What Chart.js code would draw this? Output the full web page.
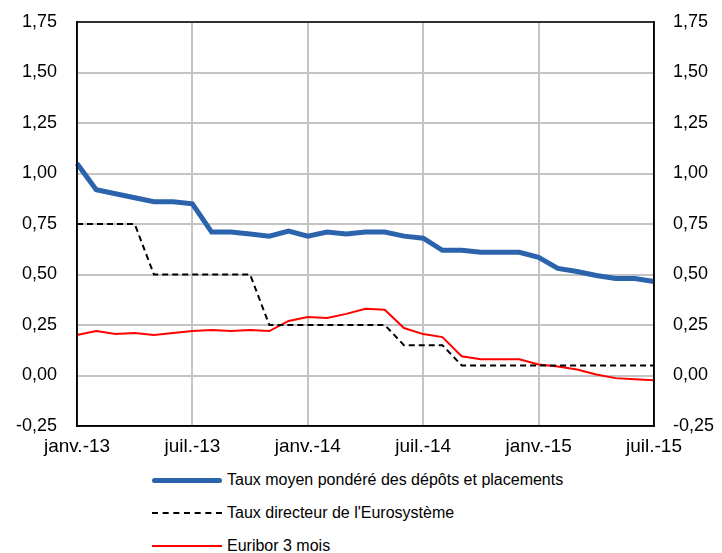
<!DOCTYPE html>
<html>
<head>
<meta charset="utf-8">
<script src="https://cdn.jsdelivr.net/npm/chart.js@4/dist/chart.umd.min.js"></script>
<style>
  body { margin: 0; background: #fff; font-family: 'Liberation Sans', Arial, sans-serif; }
  #wrap { position: relative; width: 722px; height: 553px; }
  #chart { position: absolute; left: 0; top: 0; }
  #legend { position: absolute; left: 152px; top: 464px; }
  .row { display: flex; align-items: center; height: 34px; margin-top: -1px; font-size: 16px; color: #000; }
  .sample { width: 70px; margin-right: 5px; }
</style>
</head>
<body>
<div id="wrap">
  <canvas id="chart" width="722" height="460"></canvas>
  <div id="legend"></div>
</div>
<script>
// mois, de janvier 2013 à juillet 2015
const months = [
  'janv.-13', 'févr.-13', 'mars-13', 'avr.-13', 'mai-13', 'juin-13',
  'juil.-13', 'août-13', 'sept.-13', 'oct.-13', 'nov.-13', 'déc.-13',
  'janv.-14', 'févr.-14', 'mars-14', 'avr.-14', 'mai-14', 'juin-14',
  'juil.-14', 'août-14', 'sept.-14', 'oct.-14', 'nov.-14', 'déc.-14',
  'janv.-15', 'févr.-15', 'mars-15', 'avr.-15', 'mai-15', 'juin-15',
  'juil.-15'
];

const tauxMoyen = [1.05, 0.92, 0.90, 0.88, 0.86, 0.86, 0.85, 0.71, 0.71, 0.70, 0.69, 0.715,
  0.69, 0.71, 0.70, 0.71, 0.71, 0.69, 0.68, 0.62, 0.62, 0.61, 0.61, 0.61,
  0.585, 0.53, 0.515, 0.495, 0.48, 0.48, 0.465];

const tauxDirecteur = [0.75, 0.75, 0.75, 0.75, 0.50, 0.50, 0.50, 0.50, 0.50, 0.50, 0.25, 0.25,
  0.25, 0.25, 0.25, 0.25, 0.25, 0.15, 0.15, 0.15, 0.05, 0.05, 0.05, 0.05,
  0.05, 0.05, 0.05, 0.05, 0.05, 0.05, 0.05];

const euribor = [0.20, 0.22, 0.205, 0.21, 0.20, 0.21, 0.22, 0.225, 0.22, 0.225, 0.22, 0.27,
  0.29, 0.285, 0.305, 0.33, 0.325, 0.235, 0.205, 0.19, 0.095, 0.08, 0.08, 0.08,
  0.055, 0.045, 0.03, 0.005, -0.013, -0.018, -0.023];

const series = [
  { label: 'Taux moyen pondéré des dépôts et placements', data: tauxMoyen, color: '#2b64ac', width: 5, dash: [] },
  { label: "Taux directeur de l'Eurosystème", data: tauxDirecteur, color: '#000000', width: 2, dash: [6, 4] },
  { label: 'Euribor 3 mois', data: euribor, color: '#ff0000', width: 2, dash: [] }
];

Chart.defaults.font.family = "'Liberation Sans', Arial, sans-serif";
Chart.defaults.color = '#000';

const fmt = v => v.toFixed(2).replace('.', ',');

// cadre autour de la zone du graphique
const framePlugin = {
  id: 'frame',
  afterDraw(chart) {
    const a = chart.chartArea;
    const c = chart.ctx;
    c.save();
    c.strokeStyle = '#000';
    c.lineWidth = 1.5;
    c.strokeRect(a.left, a.top, a.right - a.left, a.bottom - a.top);
    c.restore();
  }
};

// largeur fixe des axes verticaux, sans marge haute/basse automatique
const fixY = w => s => {
  s.width = w;
  s.paddingTop = 0;
  s.paddingBottom = 0;
};

new Chart(document.getElementById('chart'), {
  type: 'line',
  data: {
    labels: months,
    datasets: series.map(s => ({
      label: s.label,
      data: s.data,
      borderColor: s.color,
      borderWidth: s.width,
      borderDash: s.dash,
      pointRadius: 0,
      tension: 0,
      fill: false,
      yAxisID: 'y'
    }))
  },
  options: {
    responsive: false,
    animation: false,
    layout: { padding: { top: 22, left: 0, right: 0, bottom: 0 } },
    plugins: { legend: { display: false }, tooltip: { enabled: false } },
    scales: {
      x: {
        offset: false,
        grid: {
          color: ctx => (ctx.index % 6 === 0 ? '#c4c4c4' : 'rgba(0,0,0,0)'),
          lineWidth: 2,
          drawTicks: false
        },
        border: { color: '#000', width: 1.5 },
        ticks: {
          autoSkip: false,
          maxRotation: 0,
          padding: 9,
          font: { size: 19 },
          callback: function (v, i) { return i % 6 === 0 ? months[i] : ''; }
        },
        afterFit: s => { s.height = 34; }
      },
      y: {
        position: 'left',
        min: -0.25, max: 1.75,
        grid: { color: '#c4c4c4', lineWidth: 2, drawTicks: false },
        border: { color: '#000', width: 1.5 },
        ticks: { stepSize: 0.25, padding: 20, font: { size: 18 }, callback: v => fmt(v) },
        afterFit: fixY(77)
      },
      y2: {
        position: 'right',
        min: -0.25, max: 1.75,
        grid: { display: false, drawTicks: false },
        border: { color: '#000', width: 1.5 },
        ticks: { stepSize: 0.25, padding: 19, font: { size: 18 }, callback: v => fmt(v) },
        afterFit: fixY(68)
      }
    }
  },
  plugins: [framePlugin]
});

// légende verticale sous le graphique
const legend = document.getElementById('legend');
series.forEach(s => {
  const row = document.createElement('div');
  row.className = 'row';
  const line = document.createElement('div');
  line.className = 'sample';
  line.style.borderTop = s.width + 'px ' + (s.dash.length ? 'dashed' : 'solid') + ' ' + s.color;
  if (s.width > 3) line.style.borderRadius = '3px';
  const txt = document.createElement('span');
  txt.textContent = s.label;
  row.appendChild(line);
  row.appendChild(txt);
  legend.appendChild(row);
});
</script>
</body>
</html>
